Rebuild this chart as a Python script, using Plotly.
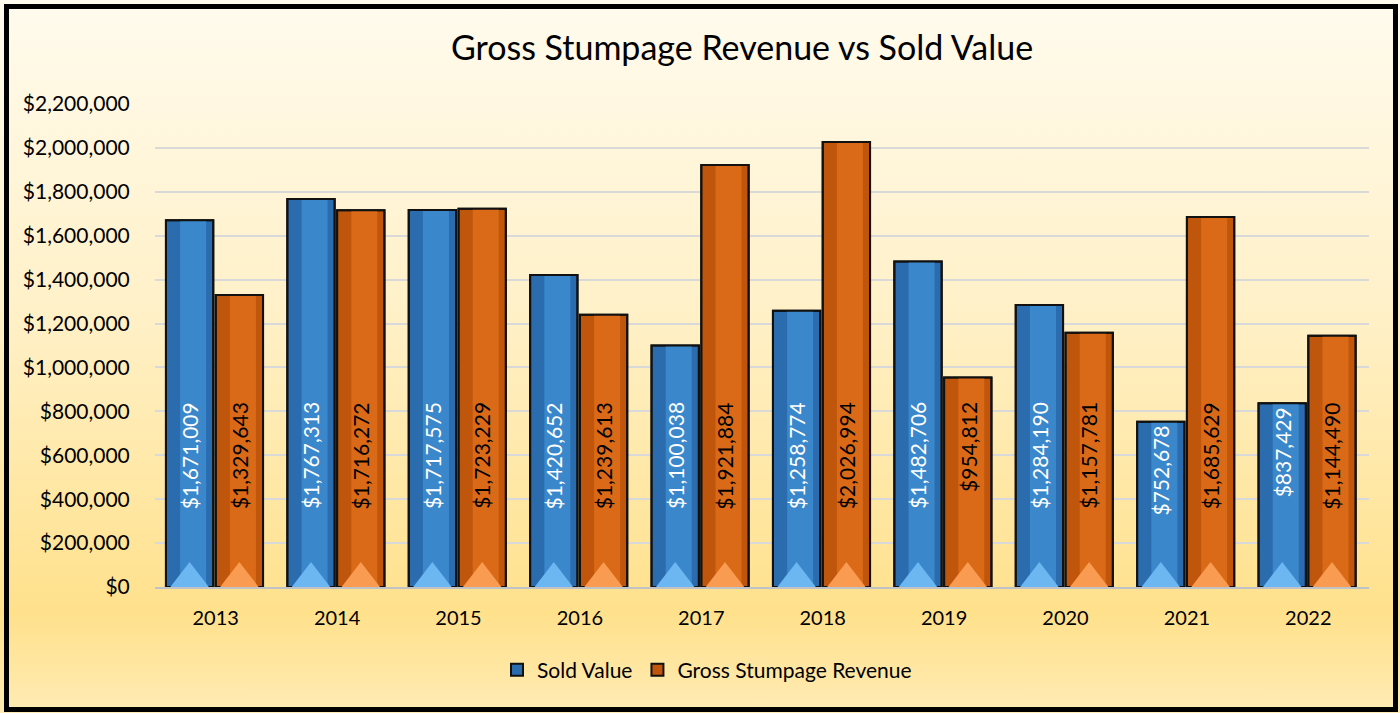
import plotly.graph_objects as go
import urllib.parse

years = ["2013", "2014", "2015", "2016", "2017", "2018", "2019", "2020", "2021", "2022"]
sold_value = [1671009, 1767313, 1717575, 1420652, 1100038, 1258774, 1482706, 1284190, 752678, 837429]
gross_revenue = [1329643, 1716272, 1723229, 1239613, 1921884, 2026994, 954812, 1157781, 1685629, 1144490]
y_ticks = list(range(0, 2200001, 200000))
y_tick_labels = ["${:,}".format(v) for v in y_ticks]

W, H = 1400, 713
L, R, T, B = 155, 31, 104, 126
pw, ph = W - L - R, H - T - B

FONT = "Lato, 'Open Sans', sans-serif"

def fx(px):
    return (px - L) / pw

def fy(py):
    return (H - B - py) / ph

idx = list(range(len(years)))
BW = 0.39
series = [
    dict(name="Sold Value", vals=sold_value, off=-0.41, dark="#2A6CAE", light="#3A88CB",
         tri="#6CB6F2", label="white"),
    dict(name="Gross Stumpage Revenue", vals=gross_revenue, off=0.0, dark="#BF560C", light="#DA6A17",
         tri="#F99B50", label="black"),
]

fig = go.Figure()
for s in series:
    n = len(s["vals"])
    # base fill (legend entry)
    fig.add_trace(go.Bar(
        x=idx, y=s["vals"], name=s["name"], offset=s["off"], width=BW,
        marker=dict(color=s["dark"], line=dict(color="#111111", width=2)),
    ))
    # lighter centre stripe
    fig.add_trace(go.Bar(
        x=idx, y=s["vals"], offset=s["off"] + BW * 0.3, width=BW * 0.55,
        marker=dict(color=s["light"], line=dict(width=0)), showlegend=False, hoverinfo="skip",
    ))
    # base bevel triangle
    fig.add_trace(go.Scatter(
        x=[i + s["off"] + BW / 2 for i in idx], y=[0] * n, mode="markers",
        marker=dict(symbol="triangle-up", size=50, color=s["tri"], line=dict(width=0)),
        showlegend=False, hoverinfo="skip", cliponaxis=True,
    ))
    # outline on top
    fig.add_trace(go.Bar(
        x=idx, y=s["vals"], offset=s["off"], width=BW,
        marker=dict(color="rgba(0,0,0,0)", line=dict(color="#111111", width=2)),
        showlegend=False, hoverinfo="skip",
    ))

# value labels (rotated, inside bars)
cap = 860000
for s in series:
    for i in idx:
        v = s["vals"][i]
        fig.add_annotation(
            x=i + s["off"] + BW / 2, y=min(v, cap), yshift=-2,
            text="${:,}".format(v), textangle=-90, showarrow=False,
            yanchor="top", xanchor="center",
            font=dict(family=FONT, size=21, color=s["label"]),
        )

svg = (
    "<svg xmlns='http://www.w3.org/2000/svg' width='1400' height='713' preserveAspectRatio='none' viewBox='0 0 1400 713'>"
    "<defs><linearGradient id='g' x1='0' y1='0' x2='0' y2='1'>"
    "<stop offset='0' stop-color='#FFFBEE'/>"
    "<stop offset='0.45' stop-color='#FFF0C6'/>"
    "<stop offset='0.86' stop-color='#FFE18C'/>"
    "<stop offset='1' stop-color='#FFEBB4'/>"
    "</linearGradient></defs>"
    "<rect width='1400' height='713' fill='url(#g)'/></svg>"
)
src = "data:image/svg+xml;charset=utf-8," + urllib.parse.quote(svg)

fig.update_layout(
    width=W, height=H,
    margin=dict(l=L, r=R, t=T, b=B, autoexpand=False),
    paper_bgcolor="#FFF3D0",
    plot_bgcolor="rgba(0,0,0,0)",
    barmode="overlay",
    font=dict(family=FONT, color="black"),
    title=dict(text="Gross Stumpage Revenue vs Sold Value", x=742 / W, xanchor="center",
               y=1 - 48 / H, yanchor="middle",
               font=dict(family=FONT, size=34, color="black")),
    showlegend=True,
    legend=dict(orientation="h", x=fx(707), xanchor="center", y=fy(670), yanchor="middle",
                font=dict(family=FONT, size=21), bgcolor="rgba(0,0,0,0)",
                itemwidth=30, traceorder="normal"),
    images=[dict(source=src, xref="paper", yref="paper", x=fx(0), y=fy(0),
                 sizex=W / pw, sizey=H / ph, xanchor="left", yanchor="top",
                 sizing="stretch", layer="below")],
    shapes=[dict(type="rect", xref="paper", yref="paper",
                 x0=fx(6.5), x1=fx(1395.5), y0=fy(709.5), y1=fy(6.5),
                 line=dict(color="black", width=5), layer="above")],
)
fig.update_xaxes(
    range=[-0.5, len(years) - 0.5], tickvals=idx, ticktext=years,
    showgrid=False, zeroline=False, showline=True, linecolor="#BFC3C8", linewidth=2,
    ticks="outside", ticklen=12, tickcolor="rgba(0,0,0,0)",
    tickfont=dict(family=FONT, size=20, color="black"),
)
fig.update_yaxes(
    range=[0, 2200000], tickvals=y_ticks, ticktext=y_tick_labels,
    showgrid=True, gridcolor="#D9D9D9", gridwidth=2, zeroline=False,
    ticks="outside", ticklen=20, tickcolor="rgba(0,0,0,0)",
    tickfont=dict(family=FONT, size=21, color="black"),
)

fig.write_html("out.html", config={"displayModeBar": False},
               post_script="document.body.style.margin='0';document.body.style.overflow='hidden';")
